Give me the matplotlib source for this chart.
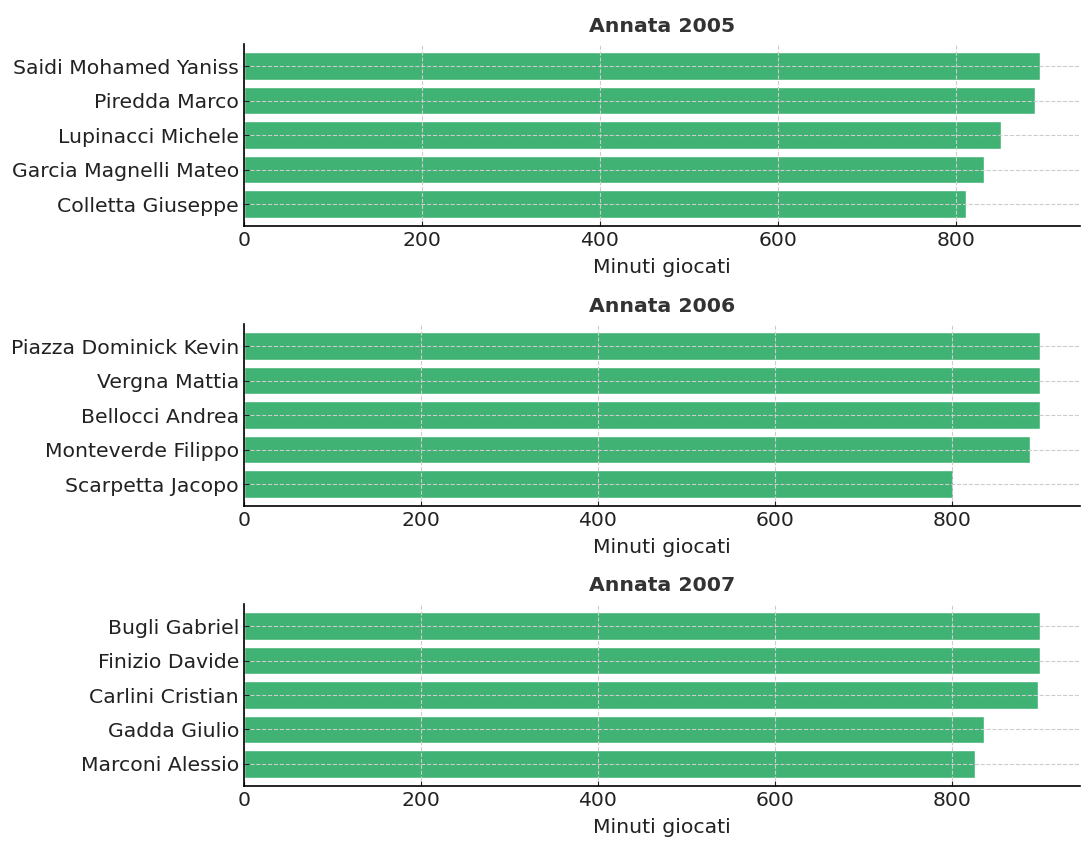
import matplotlib
matplotlib.use("Agg")
import matplotlib.pyplot as plt

titles = ["Annata 2005", "Annata 2006", "Annata 2007"]
players_2005 = ["Saidi Mohamed Yaniss", "Piredda Marco", "Lupinacci Michele",
                "Garcia Magnelli Mateo", "Colletta Giuseppe"]
minutes_2005 = [895, 889, 851, 832, 812]
players_2006 = ["Piazza Dominick Kevin", "Vergna Mattia", "Bellocci Andrea",
                "Monteverde Filippo", "Scarpetta Jacopo"]
minutes_2006 = [900, 900, 900, 888, 802]
players_2007 = ["Bugli Gabriel", "Finizio Davide", "Carlini Cristian",
                "Gadda Giulio", "Marconi Alessio"]
minutes_2007 = [900, 900, 897, 836, 826]

groups = [(players_2005, minutes_2005), (players_2006, minutes_2006),
          (players_2007, minutes_2007)]

FS = 14.7
plt.rcParams['font.family'] = ['DejaVu Sans']
plt.rcParams['font.size'] = FS

fig, axes = plt.subplots(3, 1, figsize=(10.84, 8.48), dpi=100)
fig.subplots_adjust(left=0.225, right=0.9963, top=0.948, bottom=0.0731, hspace=0.538)

for ax, title, (names, mins) in zip(axes, titles, groups):
    ax.barh(names[::-1], mins[::-1], color="#40B274", edgecolor="white", height=0.8)
    ax.set_title(title, fontsize=FS, fontweight="bold", color="#333333", pad=9)
    ax.set_xlabel("Minuti giocati", fontsize=FS, color="#222222", labelpad=6)
    ax.grid(True, linestyle="--", color="#cccccc", linewidth=0.8)
    ax.set_axisbelow('line')
    ax.spines["top"].set_visible(False)
    ax.spines["right"].set_visible(False)
    ax.spines["left"].set_linewidth(1.2)
    ax.spines["bottom"].set_linewidth(1.2)
    ax.tick_params(axis="both", direction="in", labelsize=FS, colors="#222222")
    ax.set_xticks([0, 200, 400, 600, 800])

fig.savefig("out.png", dpi=100)
